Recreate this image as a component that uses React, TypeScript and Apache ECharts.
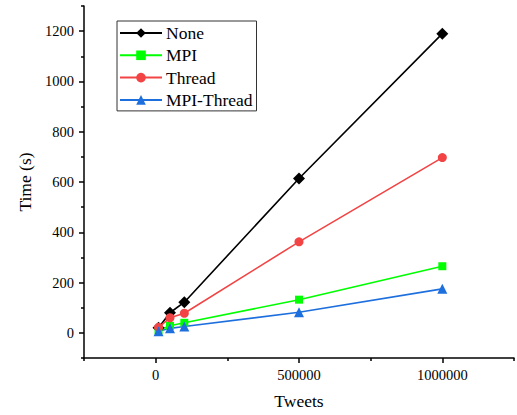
import React, { useEffect, useRef } from "react";
import * as echarts from "echarts";

const tweets = [10000, 50000, 100000, 500000, 1000000];
const noneTimes = [20, 80, 122, 614, 1190];
const mpiTimes = [10, 28, 40, 132, 265];
const threadTimes = [22, 60, 78, 362, 697];
const mpiThreadTimes = [6, 18, 25, 82, 175];

const xLabelValues = [0, 500000, 1000000];
const xMinorValues = [-250000, 250000, 750000, 1250000];
const yLabelValues = [0, 200, 400, 600, 800, 1000, 1200];
const yMinorValues = [-100, 100, 300, 500, 700, 900, 1100, 1300];

const FONT = "Liberation Serif";

export default function App() {
  const ref = useRef<HTMLDivElement>(null);
  useEffect(() => {
    if (!ref.current) return;
    const chart = echarts.init(ref.current, null, { renderer: "svg" });
    const mk = (vals: number[]) => tweets.map((t, i) => [t, vals[i]]);
    const seriesDef = [
      { name: "None", data: noneTimes, color: "#000000", symbol: "diamond", size: 12 },
      { name: "MPI", data: mpiTimes, color: "#00ff00", symbol: "rect", size: 8 },
      { name: "Thread", data: threadTimes, color: "#f24444", symbol: "circle", size: 9 },
      { name: "MPI-Thread", data: mpiThreadTimes, color: "#1e6fde", symbol: "triangle", size: 10 },
    ];
    const axisLineStyle = { color: "#000", width: 1.5 };
    const labelRich = { t: { fontFamily: FONT, fontSize: 14.5, color: "#000" } };
    const xFmt = (v: number) => (xLabelValues.indexOf(v) >= 0 ? "{t|" + String(v) + "}" : "");
    const yFmt = (v: number) => (yLabelValues.indexOf(v) >= 0 ? "{t|" + String(v) + "}" : "");
    chart.setOption({
      animation: false,
      backgroundColor: "#fff",
      textStyle: { fontFamily: FONT },
      grid: { left: 84, top: 6, width: 433, height: 352 },
      legend: {
        left: 117,
        top: 21,
        orient: "vertical",
        borderColor: "#333",
        borderWidth: 1,
        borderRadius: 0,
        padding: [3, 4, 2, 2],
        itemWidth: 42,
        itemHeight: 12,
        itemGap: 4.3,
        textStyle: { fontFamily: FONT, fontSize: 17.5, color: "#000", lineHeight: 18, padding: [0, 0, 0, -1] },
        data: seriesDef.map((s) => s.name),
      },
      xAxis: [
        {
          type: "value",
          min: -250000,
          max: 1250000,
          interval: 250000,
          name: "Tweets",
          nameLocation: "middle",
          nameGap: 34,
          nameTextStyle: { fontFamily: FONT, fontSize: 17.5, color: "#000" },
          axisLine: { onZero: false, lineStyle: axisLineStyle },
          axisTick: { show: true, length: 5, lineStyle: { width: 1.5, color: "#000" }, customValues: xLabelValues },
          axisLabel: {
            fontFamily: FONT, fontSize: 14.5, color: "#000", margin: 9, formatter: xFmt,
            showMinLabel: true, showMaxLabel: true, rich: labelRich,
          },
          splitLine: { show: false },
        },
        {
          type: "value",
          position: "bottom",
          min: -250000,
          max: 1250000,
          axisLine: { show: false, onZero: false },
          axisTick: { show: true, length: 3, lineStyle: { width: 1.5, color: "#000" }, customValues: xMinorValues },
          axisLabel: { show: false },
          splitLine: { show: false },
        },
      ],
      yAxis: [
        {
          type: "value",
          min: -100,
          max: 1300,
          interval: 100,
          name: "Time (s)",
          nameLocation: "middle",
          nameGap: 46,
          nameTextStyle: { fontFamily: FONT, fontSize: 17.5, color: "#000" },
          axisLine: { show: true, onZero: false, lineStyle: axisLineStyle },
          axisTick: { show: true, length: 5, lineStyle: { width: 1.5, color: "#000" }, customValues: yLabelValues },
          axisLabel: { fontFamily: FONT, fontSize: 14.5, color: "#000", margin: 10, formatter: yFmt, rich: labelRich },
          splitLine: { show: false },
        },
        {
          type: "value",
          position: "left",
          min: -100,
          max: 1300,
          axisLine: { show: false, onZero: false },
          axisTick: { show: true, length: 3, lineStyle: { width: 1.5, color: "#000" }, customValues: yMinorValues },
          axisLabel: { show: false },
          splitLine: { show: false },
        },
      ],
      series: seriesDef.map((s) => ({
        name: s.name,
        type: "line",
        xAxisIndex: 0,
        yAxisIndex: 0,
        data: mk(s.data),
        symbol: s.symbol,
        symbolSize: s.size,
        showAllSymbol: true,
        color: s.color,
        lineStyle: { color: s.color, width: 1.6 },
        itemStyle: { color: s.color },
      })),
    });
    return () => chart.dispose();
  }, []);
  return (
    <div
      ref={ref}
      style={{ position: "fixed", left: 0, top: 0, width: 517, height: 415, background: "#fff" }}
    />
  );
}
